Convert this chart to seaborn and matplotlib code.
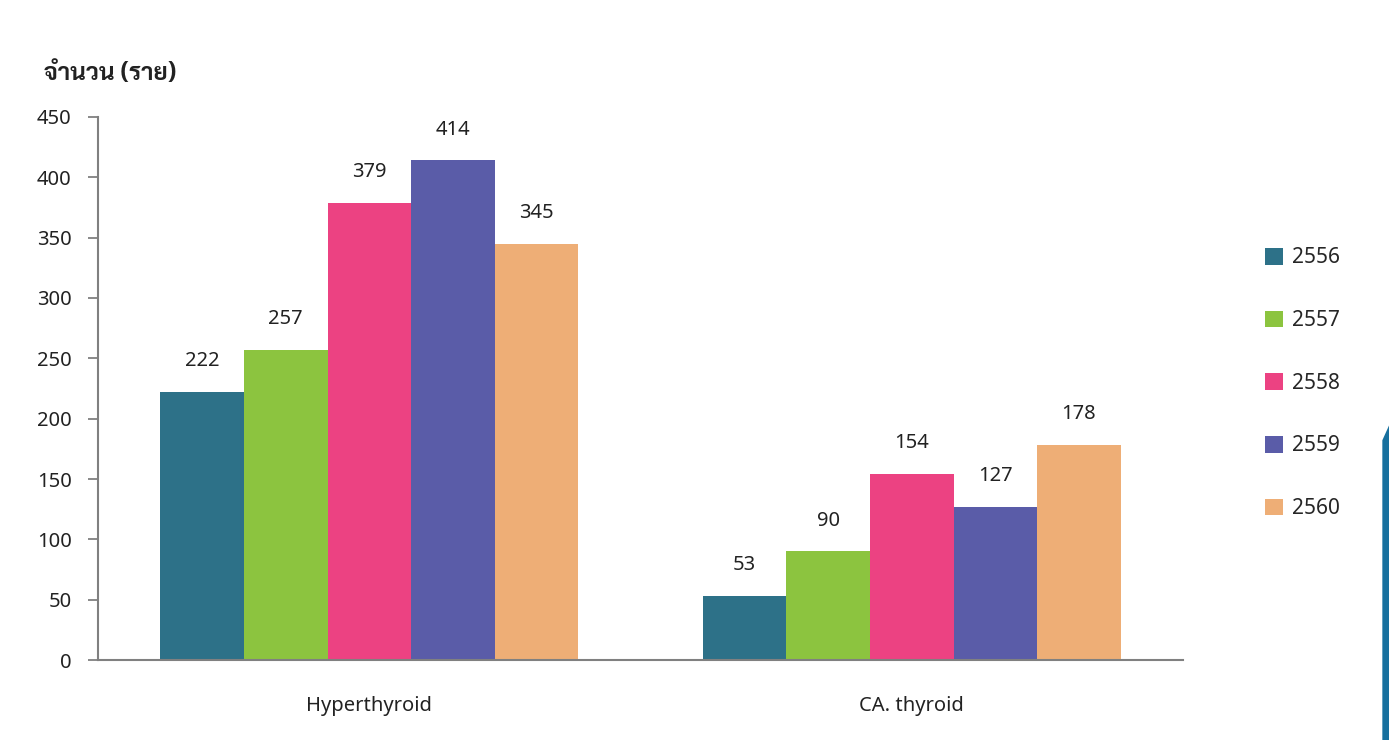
import matplotlib
matplotlib.use("Agg")
import matplotlib.pyplot as plt
from matplotlib.patches import Patch, Polygon
from matplotlib.ticker import FixedLocator
import numpy as np
import pandas as pd
import seaborn as sns

# Thyroid cases by diagnosis and Buddhist-era year
categories = ["Hyperthyroid", "CA. thyroid"]
years = ["2556", "2557", "2558", "2559", "2560"]
cases_2556 = [222, 53]
cases_2557 = [257, 90]
cases_2558 = [379, 154]
cases_2559 = [414, 127]
cases_2560 = [345, 178]
y_ticks = [0, 50, 100, 150, 200, 250, 300, 350, 400, 450]
y_label = "จำนวน (ราย)"

colors = ["#2D7188", "#8CC43F", "#EC4282", "#5A5CA8", "#EEAE76"]

series = [cases_2556, cases_2557, cases_2558, cases_2559, cases_2560]
df = pd.DataFrame(
    [(cat, yr, vals[i]) for yr, vals in zip(years, series) for i, cat in enumerate(categories)],
    columns=["disease", "year", "cases"],
)

sns.set_theme(style="white")
plt.rcParams["font.family"] = ["Noto Sans", "DejaVu Sans"]
text_color = "#222222"
axis_color = "#808080"

fig = plt.figure(figsize=(13.89, 7.4), dpi=100)
fig.patch.set_facecolor("white")
ax = fig.add_axes([0.0706, 0.1081, 0.7811, 0.7338])

sns.barplot(
    data=df, x="disease", y="cases", hue="year", order=categories, hue_order=years,
    palette=colors, saturation=1, width=0.77, gap=0, legend=False, ax=ax,
)
for bar in ax.patches:
    bar.set_edgecolor("none")
    bar.set_linewidth(0)

for cont in ax.containers:
    ax.bar_label(cont, labels=[f"{int(v)}" for v in cont.datavalues], padding=15,
                 fontsize=14.5, color=text_color)

ax.set_xlim(-0.5, 1.5)
ax.set_ylim(0, 450)
ax.set_yticks(y_ticks)
ax.set_yticklabels([str(t) for t in y_ticks], fontsize=14.5, color=text_color)
ax.set_xticks(range(len(categories)))
ax.set_xticklabels(categories, fontsize=14.5, color=text_color)
ax.xaxis.set_minor_locator(FixedLocator([-0.5, 0.5, 1.5]))
ax.tick_params(axis="x", which="major", length=0, pad=26)
ax.tick_params(axis="x", which="minor", length=7, width=1.3, color=axis_color, direction="out")
ax.tick_params(axis="y", length=7, width=1.3, color=axis_color, direction="out", left=True, pad=12)
ax.set_xlabel("")
ax.set_ylabel("")
for side in ["top", "right"]:
    ax.spines[side].set_visible(False)
for side in ["left", "bottom"]:
    ax.spines[side].set_color(axis_color)
    ax.spines[side].set_linewidth(1.5)

fig.text(0.032, 0.9, y_label, fontsize=17.5, fontweight="bold", color=text_color,
         family=["Sarabun", "Noto Sans Thai", "Noto Sans", "DejaVu Sans"], va="center")

handles = [Patch(facecolor=c, edgecolor="none", label=y) for c, y in zip(colors, years)]
fig.legend(handles=handles, loc="center left", bbox_to_anchor=(0.905, 0.482),
           frameon=False, fontsize=15, handlelength=0.85, handleheight=0.85,
           handletextpad=0.45, labelspacing=2.0, borderaxespad=0)

# blue accent strip on the right edge
fig.patches.append(Polygon([[0.9952, 0.0], [0.9952, 0.405], [1.0, 0.425], [1.0, 0.0]],
                           closed=True, transform=fig.transFigure, facecolor="#17709E",
                           edgecolor="none"))

fig.savefig("out.png", dpi=100)
